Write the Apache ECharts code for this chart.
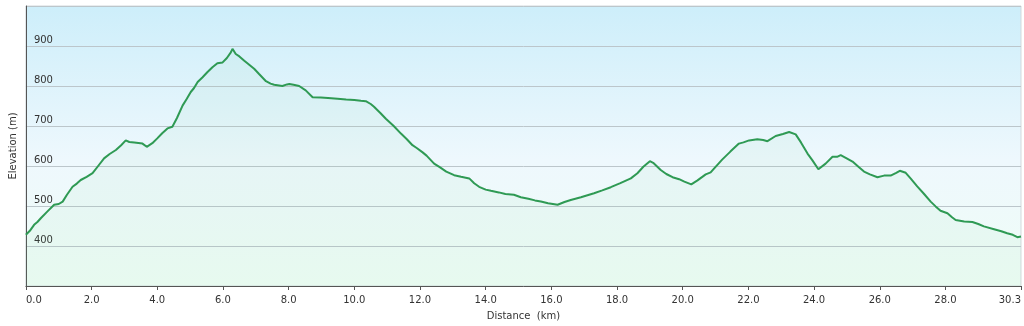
<!DOCTYPE html>
<html>
<head>
<meta charset="utf-8">
<script src="https://cdn.jsdelivr.net/npm/echarts@6/dist/echarts.min.js"></script>
<style>
html,body{margin:0;padding:0;background:#fff;}
#chart{width:1024px;height:326px;}
</style>
</head>
<body>
<div id="chart"></div>
<script>
const distanceKm = [0.00,0.12,0.25,0.35,0.46,0.65,0.86,1.00,1.12,1.25,1.42,1.55,1.67,1.85,2.03,2.20,2.38,2.55,2.74,2.90,3.04,3.15,3.30,3.55,3.68,3.85,4.00,4.15,4.31,4.46,4.60,4.77,4.90,5.02,5.12,5.23,5.38,5.53,5.68,5.83,5.99,6.12,6.24,6.29,6.39,6.50,6.65,6.80,6.95,7.10,7.31,7.45,7.56,7.81,7.95,8.02,8.15,8.32,8.52,8.73,8.98,9.20,9.49,9.75,10.00,10.20,10.35,10.50,10.60,10.80,10.96,11.20,11.42,11.60,11.77,11.90,12.08,12.20,12.43,12.60,12.80,13.04,13.25,13.50,13.65,13.80,14.00,14.16,14.40,14.60,14.86,15.07,15.30,15.50,15.68,15.90,16.19,16.40,16.59,16.90,17.10,17.30,17.55,17.81,18.10,18.42,18.62,18.80,19.00,19.10,19.33,19.50,19.69,19.89,20.05,20.26,20.45,20.70,20.85,21.00,21.20,21.45,21.71,21.85,22.02,22.27,22.45,22.58,22.83,23.05,23.24,23.44,23.60,23.80,23.95,24.13,24.35,24.56,24.70,24.81,24.95,25.17,25.35,25.52,25.70,25.93,26.13,26.33,26.50,26.61,26.79,26.95,27.14,27.35,27.55,27.70,27.85,28.06,28.20,28.31,28.57,28.82,29.00,29.17,29.48,29.70,29.88,30.05,30.19,30.30];
const elevationM = [428,438,453,460,470,486,503,505,511,528,548,556,565,573,582,600,619,630,640,652,664,660,659,656,648,657,669,682,694,698,720,751,768,785,795,810,822,835,847,857,859,870,884,893,880,874,863,853,843,830,812,806,803,800,804,805,803,800,789,772,771,770,768,766,765,763,762,755,748,732,718,700,681,667,652,645,634,626,606,597,586,577,573,569,557,548,541,538,534,530,528,522,518,514,511,507,503,510,515,522,527,532,539,547,557,569,582,598,612,608,590,580,572,567,561,554,564,579,584,598,616,636,656,659,664,667,665,662,675,680,685,679,659,631,614,592,606,623,623,627,621,611,598,586,579,572,576,576,583,588,583,568,549,530,511,499,488,482,472,465,461,460,455,449,442,437,432,428,422,424];
const xTickValues = [0,2,4,6,8,10,12,14,16,18,20,22,24,26,28,30.3];
const yTickValues = [400,500,600,700,800,900];
const xAxisName = 'Distance  (km)';
const yAxisName = 'Elevation (m)';

const seriesData = distanceKm.map((d, i) => [d, elevationM[i]]);
const FONT = 'DejaVu Sans';

const chart = echarts.init(document.getElementById('chart'), null, {renderer: 'canvas'});
chart.setOption({
  animation: false,
  backgroundColor: '#ffffff',
  grid: {
    left: 25, right: 2, top: 6, bottom: 38,
    show: true,
    borderColor: '#d3d9dc',
    borderWidth: 1,
    backgroundColor: new echarts.graphic.LinearGradient(0, 0, 0, 1, [
      {offset: 0, color: '#cdeefa'},
      {offset: 0.55, color: '#eef8fd'},
      {offset: 1, color: '#effdf6'}
    ])
  },
  xAxis: {
    type: 'value',
    min: 0,
    max: 30.3,
    name: xAxisName,
    nameLocation: 'middle',
    nameGap: 25,
    nameTextStyle: {color: '#333', fontFamily: FONT, fontSize: 10},
    axisLine: {show: true, lineStyle: {color: '#555', width: 1}},
    axisTick: {show: true, length: 4, lineStyle: {color: '#555'}, customValues: xTickValues},
    axisLabel: {
      customValues: xTickValues,
      formatter: v => Number(v).toFixed(1),
      color: '#333', fontFamily: FONT, fontSize: 10, margin: 9,
      alignMinLabel: 'left', alignMaxLabel: 'right'
    },
    splitLine: {show: false}
  },
  yAxis: {
    type: 'value',
    min: 300,
    max: 1000,
    interval: 100,
    name: yAxisName,
    nameLocation: 'middle',
    nameGap: 5,
    nameTextStyle: {color: '#333', fontFamily: FONT, fontSize: 10},
    axisLine: {show: true, lineStyle: {color: '#555', width: 1}},
    axisTick: {show: false},
    axisLabel: {
      inside: true,
      customValues: yTickValues,
      verticalAlign: 'bottom',
      color: '#333', fontFamily: FONT, fontSize: 10, margin: 8,
      padding: [0, 0, 1, 0]
    },
    splitLine: {show: true, lineStyle: {color: '#bcc6cb', width: 1}}
  },
  series: [{
    type: 'line',
    data: seriesData,
    showSymbol: false,
    smooth: false,
    lineStyle: {color: '#2f9a54', width: 2},
    areaStyle: {color: 'rgba(110,210,150,0.09)'},
    z: 3
  }]
});
</script>
</body>
</html>
